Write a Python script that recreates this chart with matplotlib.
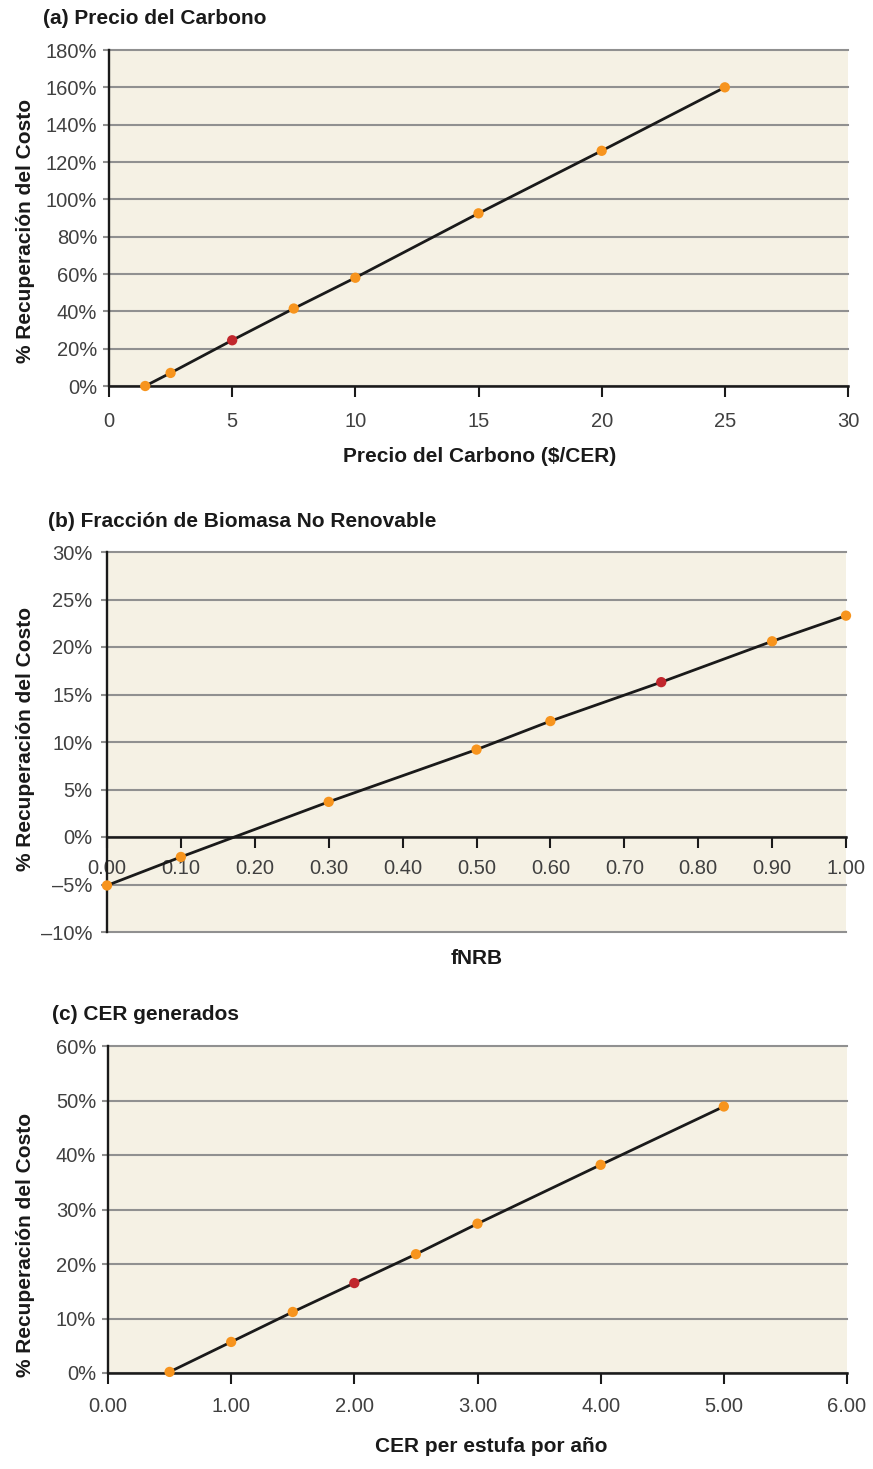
import matplotlib
matplotlib.use('Agg')
import matplotlib.pyplot as plt
from matplotlib.ticker import FixedLocator, FuncFormatter

# ---------------- data ----------------
a_x = [1.47, 2.5, 5, 7.5, 10, 15, 20, 25]
a_y = [0, 7, 24.5, 41.5, 58, 92.5, 126, 160]
a_ref = 5
a_xticks = [0, 5, 10, 15, 20, 25, 30]
a_yticks = [0, 20, 40, 60, 80, 100, 120, 140, 160, 180]

b_x = [0.0, 0.1, 0.3, 0.5, 0.6, 0.75, 0.9, 1.0]
b_y = [-5.1, -2.1, 3.7, 9.2, 12.2, 16.3, 20.6, 23.3]
b_ref = 0.75
b_xticks = [0.0, 0.1, 0.2, 0.3, 0.4, 0.5, 0.6, 0.7, 0.8, 0.9, 1.0]
b_yticks = [-10, -5, 0, 5, 10, 15, 20, 25, 30]

c_x = [0.5, 1.0, 1.5, 2.0, 2.5, 3.0, 4.0, 5.0]
c_y = [0.2, 5.7, 11.2, 16.5, 21.8, 27.4, 38.2, 48.9]
c_ref = 2.0
c_xticks = [0, 1, 2, 3, 4, 5, 6]
c_yticks = [0, 10, 20, 30, 40, 50, 60]

titles = ["(a) Precio del Carbono", "(b) Fracción de Biomasa No Renovable", "(c) CER generados"]
xlabels = ["Precio del Carbono ($/CER)", "fNRB", "CER per estufa por año"]
ylabel = "% Recuperación del Costo"

# ---------------- style ----------------
W, H = 873, 1469
plt.rcParams['font.family'] = ['Liberation Sans', 'DejaVu Sans']
BG = '#F5F1E4'
GRID = '#909090'
ORANGE = '#F7941D'
RED = '#C1272D'
TICKC = '#404040'
DARK = '#1a1a1a'
TICK_FS = 14.5
LAB_FS = 15

fig = plt.figure(figsize=(W / 100, H / 100), dpi=100)


def px_axes(left, right, top, bottom):
    return fig.add_axes([left / W, 1 - bottom / H, (right - left) / W, (bottom - top) / H])


def pct(v, _=None):
    v = int(round(v))
    return ('\u2013' + str(abs(v)) if v < 0 else str(v)) + '%'


def style(ax, xticks, yticks, xfmt, xlim, ylim, xpad, ypad):
    ax.set_facecolor(BG)
    ax.set_xlim(*xlim)
    ax.set_ylim(*ylim)
    ax.xaxis.set_major_locator(FixedLocator(xticks))
    ax.yaxis.set_major_locator(FixedLocator(yticks))
    ax.xaxis.set_major_formatter(FuncFormatter(xfmt))
    ax.yaxis.set_major_formatter(FuncFormatter(pct))
    for s in ['top', 'right']:
        ax.spines[s].set_visible(False)
    ax.spines['left'].set_color(DARK)
    ax.spines['left'].set_linewidth(1.7)
    ax.spines['bottom'].set_color(DARK)
    ax.spines['bottom'].set_linewidth(1.8)
    ax.spines['bottom'].set_position(('data', 0))
    ax.spines['bottom'].set_zorder(2.6)
    ax.yaxis.grid(True, color=GRID, lw=1.5)
    for gl in ax.get_ygridlines():
        gl.set_clip_on(False)
    ax.set_axisbelow(True)
    ax.tick_params(axis='y', length=4.5, width=1.5, color=GRID, labelsize=TICK_FS,
                   labelcolor=TICKC, pad=ypad)
    ax.tick_params(axis='x', direction='out', length=8, width=1.5, color=DARK,
                   labelsize=TICK_FS, labelcolor=TICKC, pad=xpad)


def draw(ax, xs, ys, ref):
    ax.plot(xs, ys, color=DARK, lw=2.0, zorder=3)
    cols = [RED if x == ref else ORANGE for x in xs]
    ax.scatter(xs, ys, s=55, c=cols, zorder=4, clip_on=False, linewidths=0)


# (a)
axa = px_axes(109, 848, 50, 386)
style(axa, a_xticks, a_yticks, lambda v, _=None: f"{v:.0f}", (0, 30), (0, 180), 11, 4)
draw(axa, a_x, a_y, a_ref)

# (b)
axb = px_axes(107, 846, 552, 932)
style(axb, b_xticks, b_yticks, lambda v, _=None: f"{v:.2f}", (0, 1.0), (-10, 30), 8, 6)
draw(axb, b_x, b_y, b_ref)

# (c)
axc = px_axes(108, 847, 1046, 1373)
style(axc, c_xticks, c_yticks, lambda v, _=None: f"{v:.2f}", (0, 6), (0, 60), 9, 4)
draw(axc, c_x, c_y, c_ref)

# titles
for (tx, ty), t in zip([(43, 18), (48, 521), (52, 1015)], titles):
    fig.text(tx / W, 1 - ty / H, t, ha='left', va='center', fontsize=LAB_FS,
             fontweight='bold', color=DARK)

# x labels
for (tx, ty), t in zip([(480, 457), (477, 958), (491, 1446)], xlabels):
    fig.text(tx / W, 1 - ty / H, t, ha='center', va='center', fontsize=LAB_FS,
             fontweight='bold', color=DARK)

# y labels
for ty in [231, 739, 1245]:
    fig.text(26 / W, 1 - ty / H, ylabel, ha='center', va='center', rotation=90,
             fontsize=LAB_FS, fontweight='bold', color=DARK)

fig.savefig('out.png', dpi=100)
